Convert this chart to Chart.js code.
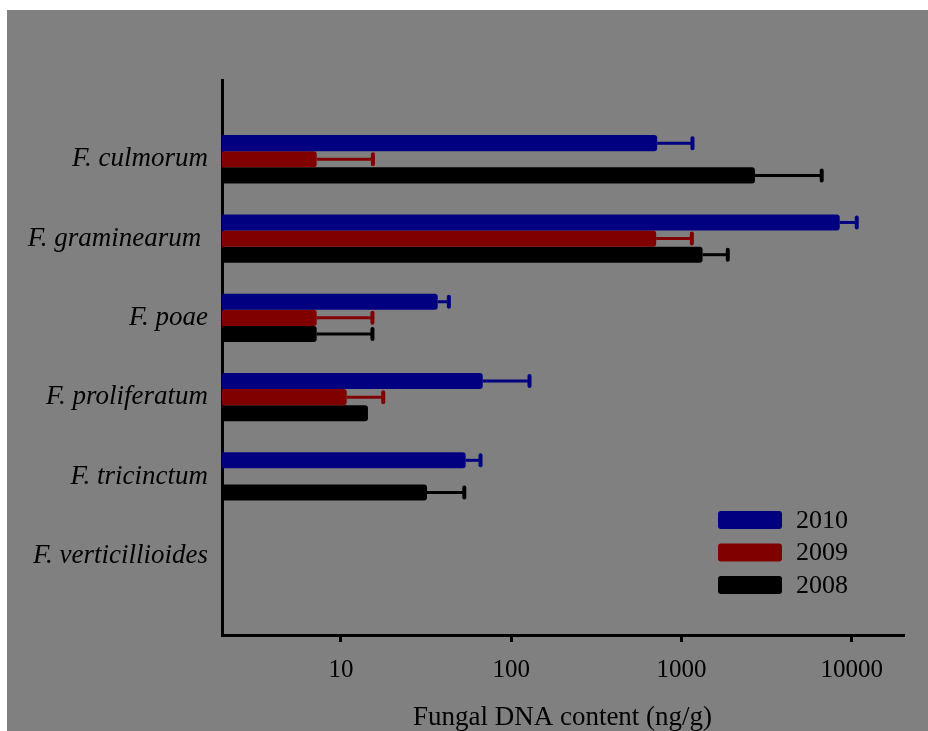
<!DOCTYPE html>
<html>
<head>
<meta charset="utf-8">
<script src="https://cdn.jsdelivr.net/npm/chart.js@4.4.0/dist/chart.umd.min.js"></script>
<style>
  html, body { margin: 0; padding: 0; background: #fff; }
  #wrap { position: relative; width: 928px; height: 731px; }
  #bg { position: absolute; left: 7px; top: 10px; right: 0; bottom: 0; background: #808080; }
  #fungalChart { position: absolute; left: 0; top: 0; }
</style>
</head>
<body>
<div id="wrap"><div id="bg"></div><canvas id="fungalChart" width="928" height="731"></canvas></div>
<script>
// Species, top to bottom
const species = ['F. culmorum', 'F. graminearum ', 'F. poae', 'F. proliferatum', 'F. tricinctum', 'F. verticillioides'];
const years = ['2010', '2009', '2008'];

// Mean fungal DNA content (ng/g); null = not detected
const dna2010 = [720, 8500, 37, 68, 54, null];
const dna2009 = [7.2, 710, 7.2, 10.8, null, null];
const dna2008 = [2700, 1330, 7.2, 14.4, 32, null];

// Upper error for each mean (ng/g)
const err2010 = [440, 2200, 6, 60, 12, null];
const err2009 = [8.2, 440, 8.1, 6.9, null, null];
const err2008 = [3960, 540, 8.1, null, 21, null];

const xTicks = [10, 100, 1000, 10000];

const serif = "'Liberation Serif', 'Times New Roman', serif";

// empty slot above and below the species so they sit on the grid points
const labels = ['', ...species, ''];
const pad = arr => [null, ...arr, null];

// whiskers: line from bar end to mean + error, with a short cap
const errorBars = {
    id: 'errorBars',
    afterDatasetsDraw(chart) {
        const ctx = chart.ctx;
        const xScale = chart.scales.x;
        chart.data.datasets.forEach((ds, i) => {
            const meta = chart.getDatasetMeta(i);
            meta.data.forEach((bar, j) => {
                const v = ds.data[j];
                const e = ds.errors[j];
                if (v == null || e == null) return;
                const x1 = xScale.getPixelForValue(v + e);
                ctx.save();
                ctx.strokeStyle = ds.backgroundColor;
                ctx.lineWidth = 3;
                ctx.beginPath();
                ctx.moveTo(bar.x, bar.y);
                ctx.lineTo(x1, bar.y);
                ctx.stroke();
                ctx.lineWidth = 4;
                ctx.lineCap = 'round';
                ctx.beginPath();
                ctx.moveTo(x1, bar.y - 5);
                ctx.lineTo(x1, bar.y + 5);
                ctx.stroke();
                ctx.restore();
            });
        });
    }
};

// legend box in the lower right of the plot
const yearLegend = {
    id: 'yearLegend',
    afterDraw(chart) {
        const ctx = chart.ctx;
        const area = chart.chartArea;
        const x = area.right - 185;
        let y = area.bottom - 124;
        ctx.save();
        ctx.font = '26px ' + serif;
        ctx.textBaseline = 'middle';
        chart.data.datasets.forEach(ds => {
            ctx.fillStyle = ds.backgroundColor;
            ctx.beginPath();
            ctx.roundRect(x, y, 64, 18, 3);
            ctx.fill();
            ctx.fillStyle = '#000';
            ctx.fillText(ds.label, x + 78, y + 10);
            y += 32.5;
        });
        ctx.restore();
    }
};

const colors = ['#000080', '#800000', '#000000'];
const values = [dna2010, dna2009, dna2008];
const errors = [err2010, err2009, err2008];

new Chart(document.getElementById('fungalChart'), {
    type: 'bar',
    data: {
        labels: labels,
        datasets: years.map((year, i) => ({
            label: year,
            data: pad(values[i]),
            errors: pad(errors[i]),
            backgroundColor: colors[i],
            borderWidth: 0,
            borderRadius: 3,
            borderSkipped: 'start',
            categoryPercentage: 0.61,
            barPercentage: 1
        }))
    },
    options: {
        indexAxis: 'y',
        responsive: false,
        animation: false,
        layout: { padding: { top: 80, right: 25, left: 0, bottom: 0 } },
        plugins: {
            legend: { display: false },
            tooltip: { enabled: false }
        },
        scales: {
            x: {
                type: 'logarithmic',
                min: 2,
                max: 20000,
                afterBuildTicks: scale => { scale.ticks = xTicks.map(v => ({ value: v })); },
                afterFit: scale => { scale.height = 96; },
                ticks: {
                    color: '#000',
                    padding: 13,
                    font: { family: serif, size: 25 },
                    callback: v => String(v)
                },
                grid: {
                    display: true,
                    drawOnChartArea: false,
                    drawTicks: true,
                    tickLength: 7,
                    color: '#000',
                    lineWidth: 3
                },
                border: { display: true, color: '#000', width: 3 },
                title: {
                    display: true,
                    text: 'Fungal DNA content (ng/g)',
                    color: '#000',
                    font: { family: serif, size: 27, lineHeight: 1 },
                    padding: { top: 0, bottom: 0 }
                }
            },
            y: {
                type: 'category',
                offset: false,
                afterFit: scale => { scale.width = 222; },
                ticks: {
                    color: '#000',
                    padding: 6,
                    font: { family: serif, size: 27, style: 'italic' }
                },
                grid: { display: false },
                border: { display: true, color: '#000', width: 3 }
            }
        }
    },
    plugins: [errorBars, yearLegend]
});
</script>
</body>
</html>
